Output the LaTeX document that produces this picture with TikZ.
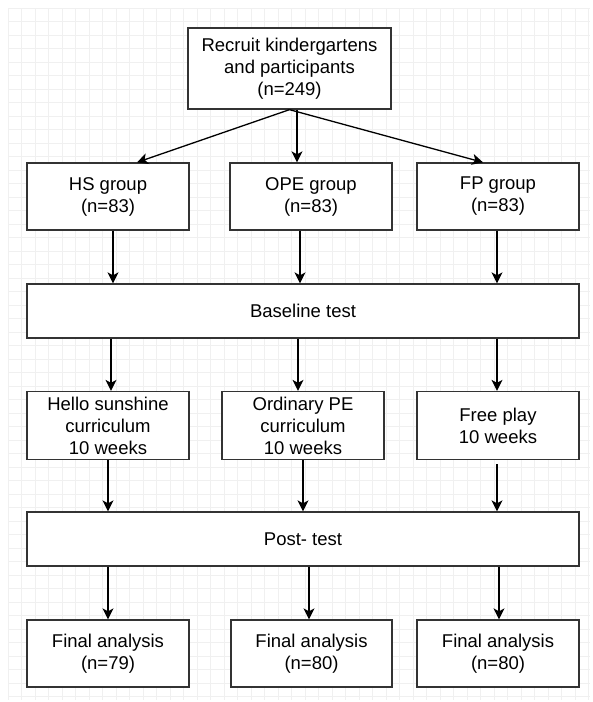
\documentclass[tikz,border=0pt]{standalone}
\usepackage{fontspec}
\setmainfont{Liberation Sans}
\usetikzlibrary{arrows.meta}
\begin{document}
\begin{tikzpicture}[x=1pt,y=-1pt,
  box/.style={draw=black!80, line width=1.3pt, fill=white, rectangle, inner sep=0pt, align=center,
    font=\fontsize{18.5}{22}\selectfont, text=black},
  arr/.style={draw=black, line width=1.3pt, -{Stealth[length=11pt,width=11pt,inset=3pt]}},
  gridline/.style={draw=black!6, line width=0.8pt}]
\useasboundingbox (0,0) rectangle (593,702);
\fill[white] (0,0) rectangle (593,702);
% background grid
\foreach \i in {0,...,43} {
  \draw[gridline] ({8+13.5*\i},8) -- ({8+13.5*\i},700);
}
\foreach \j in {0,...,51} {
  \draw[gridline] (8,{8+13.5*\j}) -- (590,{8+13.5*\j});
}
% nodes
\node[box, minimum width=203pt, minimum height=81pt] (top) at (289.5,68.5) {Recruit kindergartens\\and participants\\(n=249)};
\node[box, minimum width=162pt, minimum height=67pt] (hs) at (108,196.5) {HS group\\(n=83)};
\node[box, minimum width=162pt, minimum height=67pt] (ope) at (311,196.5) {OPE group\\(n=83)};
\node[box, minimum width=162pt, minimum height=67pt] (fp) at (498,196.5) {FP group\\(n=83)};
\node[box, minimum width=552pt, minimum height=54pt] (base) at (303,311) {Baseline test};
\node[box, minimum width=162pt, minimum height=68pt] (hello) at (108,425.5) {Hello sunshine\\curriculum\\10 weeks};
\node[box, minimum width=162pt, minimum height=68pt] (ord) at (303,425.5) {Ordinary PE\\curriculum\\10 weeks};
\node[box, minimum width=162pt, minimum height=68pt] (free) at (498,425.5) {Free play\\10 weeks};
\node[box, minimum width=552pt, minimum height=54pt] (post) at (303,539) {Post- test};
\node[box, minimum width=162pt, minimum height=67pt] (f1) at (108,653.5) {Final analysis\\(n=79)};
\node[box, minimum width=161pt, minimum height=67pt] (f2) at (311.5,653.5) {Final analysis\\(n=80)};
\node[box, minimum width=162pt, minimum height=67pt] (f3) at (498,653.5) {Final analysis\\(n=80)};
% connectors
\draw[arr] (top.south) -- ([xshift=29pt]hs.north);
\draw[arr] ([xshift=7.5pt]top.south) -- ([xshift=-14pt]ope.north);
\draw[arr] (top.south) -- ([xshift=-15pt]fp.north);
\draw[arr] ([xshift=5pt]hs.south) -- ([xshift=5pt]hs.south |- base.north);
\draw[arr] ([xshift=-11pt]ope.south) -- ([xshift=-11pt]ope.south |- base.north);
\draw[arr] ([xshift=-1pt]fp.south) -- ([xshift=-1pt]fp.south |- base.north);
\draw[arr] ([xshift=3pt]hello.north |- base.south) -- ([xshift=3pt]hello.north);
\draw[arr] ([xshift=-5pt]ord.north |- base.south) -- ([xshift=-5pt]ord.north);
\draw[arr] ([xshift=-1pt]free.north |- base.south) -- ([xshift=-1pt]free.north);
\draw[arr] (hello.south) -- (hello.south |- post.north);
\draw[arr] (ord.south) -- (ord.south |- post.north);
\draw[arr] ([xshift=-1pt,yshift=-4pt]free.south) -- ([xshift=-1pt]free.south |- post.north);
\draw[arr] (f1.north |- post.south) -- (f1.north);
\draw[arr] ([xshift=-2.5pt]f2.north |- post.south) -- ([xshift=-2.5pt]f2.north);
\draw[arr] ([xshift=1pt]f3.north |- post.south) -- ([xshift=1pt]f3.north);
\end{tikzpicture}
\end{document}
